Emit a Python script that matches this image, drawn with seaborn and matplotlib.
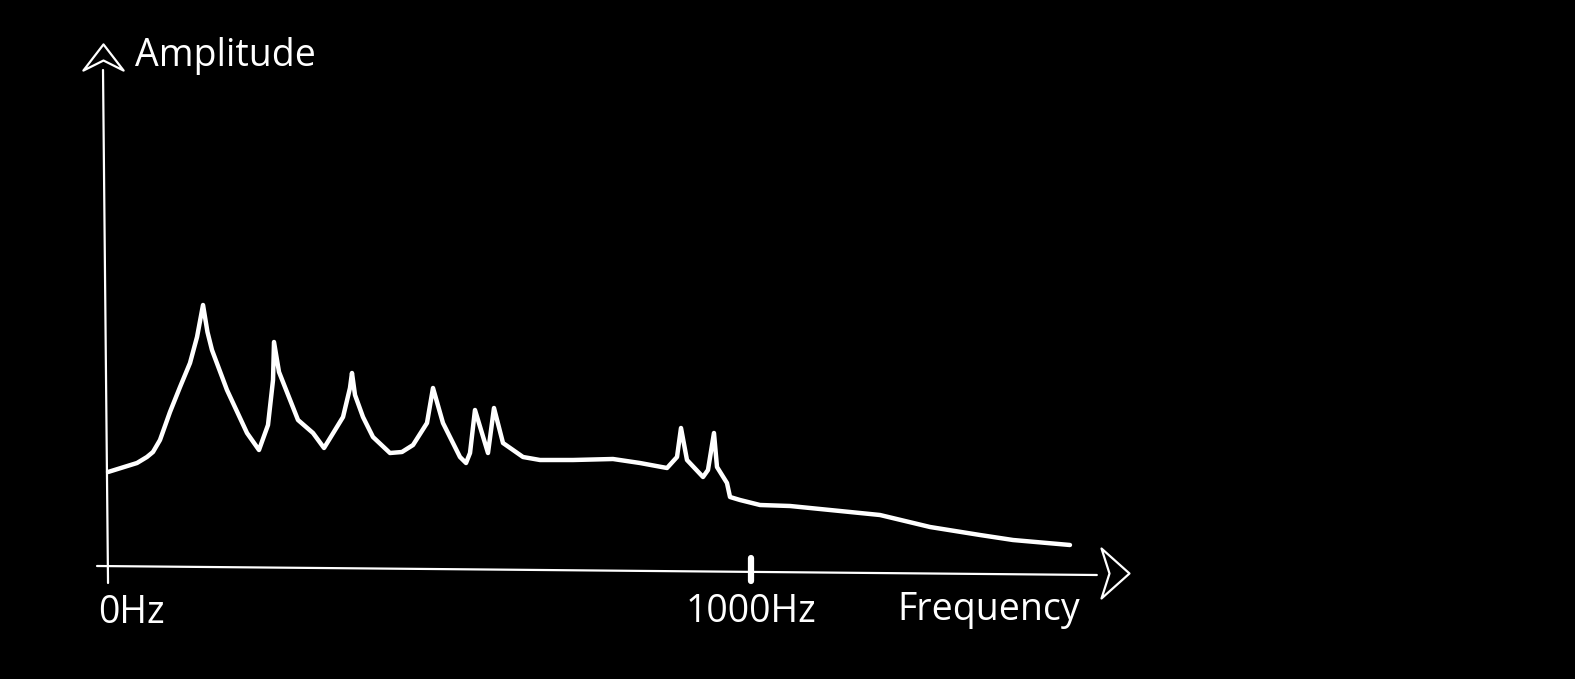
import numpy as np
import pandas as pd
import matplotlib
matplotlib.use("Agg")
import matplotlib.pyplot as plt
from matplotlib.path import Path
import seaborn as sns

# ---- data ----
freq_hz = [1.6, 46.6, 62.0, 71.4, 82.3, 97.8, 113.4, 128.9, 139.8, 149.1,
           156.0, 163.0, 186.3, 217.4, 236.0,
           250.0, 257.8, 259.3, 267.1, 296.6, 319.9, 337.0, 366.5, 377.3, 380.4,
           385.1, 397.5, 413.0, 439.4, 458.0, 475.2, 496.9, 506.2, 521.7, 548.1, 557.5,
           563.7, 571.4, 591.6, 600.9, 614.9, 646.0, 672.4, 723.6, 785.7, 827.6,
           869.6, 885.1, 891.3, 900.6, 925.5, 933.2, 942.5, 947.2, 962.7, 967.4,
           982.9, 1014.0, 1060.6, 1122.7, 1200.3, 1278.0, 1355.6, 1406.8, 1495.3]
amplitude = [9.5, 10.4, 11.0, 11.5, 12.7, 15.5, 18.0, 20.4, 23.0, 26.2,
             23.5, 21.7, 17.7, 13.4, 11.7,
             14.2, 18.7, 22.5, 19.5, 14.7, 13.4, 11.9, 15.0, 17.9, 19.4,
             17.2, 15.0, 13.0, 11.4, 11.5, 12.2, 14.4, 17.9, 14.4, 11.0, 10.4,
             11.4, 15.7, 11.4, 15.9, 12.4, 11.0, 10.7, 10.7, 10.8, 10.4,
             9.9, 11.0, 13.9, 10.7, 9.0, 9.7, 13.4, 10.0, 8.4, 7.0,
             6.7, 6.2, 6.1, 5.7, 5.2, 4.0, 3.2, 2.7, 2.2]
tick_positions = [0, 1000]
tick_labels = ["0Hz", "1000Hz"]
x_label = "Frequency"
y_label = "Amplitude"

df = pd.DataFrame({"freq": freq_hz, "amp": amplitude})

sns.set_style("dark", {"axes.facecolor": "black", "figure.facecolor": "black"})
plt.rcParams["font.family"] = ["Open Sans", "DejaVu Sans"]

fig = plt.figure(figsize=(15.75, 6.79), dpi=100, facecolor="black")
ax = fig.add_axes([0, 0, 1, 1])
ax.set_facecolor("black")

sns.lineplot(data=df, x="freq", y="amp", sort=False, color="white",
             linewidth=3.2, ax=ax, solid_capstyle="round", solid_joinstyle="round")

# axes (hand-drawn look)
ax.plot([-15.5, 1537], [0.1, -0.8], color="white", lw=1.6, solid_capstyle="round")
ax.plot([1.6, -6.2], [-1.6, 49.7], color="white", lw=1.6, solid_capstyle="round")

# open arrow heads
up_head = Path([(0, 13), (-20, -13), (0, -3), (20, -13), (0, 13)],
               [Path.MOVETO, Path.LINETO, Path.LINETO, Path.LINETO, Path.CLOSEPOLY])
right_head = Path([(14, 0), (-14, 25), (-6, 0), (-14, -25), (14, 0)],
                  [Path.MOVETO, Path.LINETO, Path.LINETO, Path.LINETO, Path.CLOSEPOLY])
ax.plot([-6.2], [51.0], marker=up_head, markersize=29, markerfacecolor="none",
        markeredgecolor="white", markeredgewidth=1.6, linestyle="none")
ax.plot([1565], [-0.6], marker=right_head, markersize=36, markerfacecolor="none",
        markeredgecolor="white", markeredgewidth=1.6, linestyle="none")

# 1000 Hz tick mark
ax.plot([tick_positions[1], tick_positions[1]], [0.9, -1.4], color="white",
        lw=4.5, solid_capstyle="round")

# labels
fs = 27
ax.text(tick_positions[0] - 14, -4.6, tick_labels[0], color="white", fontsize=fs,
        ha="left", va="center")
ax.text(tick_positions[1], -4.5, tick_labels[1], color="white", fontsize=fs,
        ha="center", va="center")
ax.text(1228, -4.3, x_label, color="white", fontsize=fs, ha="left", va="center")
ax.text(43.5, 51.1, y_label, color="white", fontsize=fs, ha="left", va="center")

ax.set_xlim(-107 / 0.644, (1575 - 107) / 0.644)
ax.set_ylim(-(679 - 567) / 10, 567 / 10)
ax.set_axis_off()

fig.savefig("out.png", dpi=100, facecolor="black")
